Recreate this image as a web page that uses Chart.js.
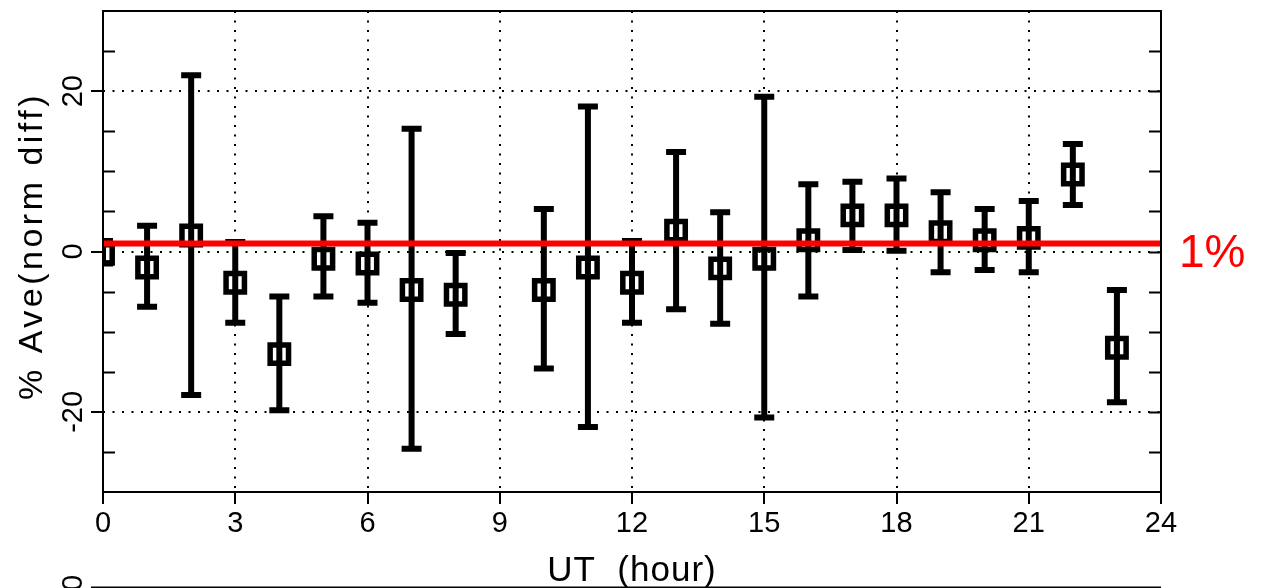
<!DOCTYPE html>
<html>
<head>
<meta charset="utf-8">
<script src="https://cdn.jsdelivr.net/npm/chart.js@4.4.1/dist/chart.umd.min.js"></script>
<style>
  html, body { margin: 0; padding: 0; background: #ffffff; }
  #wrap { width: 1282px; height: 588px; }
</style>
</head>
<body>
<div id="wrap"><canvas id="c" width="1282" height="588"></canvas></div>
<script>
// ---------------- data ----------------
const hours      = [0, 1, 2, 3, 4, 5, 6, 7, 8, 10, 11, 12, 13, 14, 15, 16, 17, 18, 19, 20, 21, 22, 23];
const meanVals   = [-0.3, -2.0, 2.0, -3.9, -12.8, -0.9, -1.5, -4.8, -5.4, -4.8, -2.0, -3.9, 2.6, -2.1, -0.9, 1.4, 4.5, 4.5, 2.4, 1.4, 1.7, 9.6, -12.0];
const upperVals  = [1.3, 3.2, 22.0, 1.2, -5.6, 4.4, 3.6, 15.3, -0.2, 5.3, 18.1, 1.3, 12.4, 4.9, 19.3, 8.4, 8.7, 9.1, 7.4, 5.3, 6.3, 13.4, -4.8];
const lowerVals  = [-1.5, -6.9, -17.9, -8.9, -19.8, -5.6, -6.4, -24.6, -10.3, -14.6, -21.9, -8.9, -7.2, -9.0, -20.7, -5.6, 0.2, 0.1, -2.6, -2.3, -2.6, 5.8, -18.8];
const refLevel   = 1;
const refSpan    = [0, 24];
const refLabel   = '1%';
const yLabelValues = [-20, 0, 20];
const xTitle = 'UT  (hour)';
const yTitle = '% Ave(norm diff)';
const lowerPanelLabel = '0';

const FONT = '"Liberation Sans", Arial, Helvetica, sans-serif';

const overlay = {
  id: 'overlay',
  beforeDatasetsDraw(chart) {
    const { ctx, chartArea: a, scales: { x, y } } = chart;
    ctx.save();
    ctx.beginPath();
    ctx.rect(a.left, a.top, a.right - a.left, a.bottom - a.top);
    ctx.clip();
    ctx.strokeStyle = '#000';
    ctx.lineWidth = 6;
    ctx.lineCap = 'butt';
    hours.forEach((h, i) => {
      const px = x.getPixelForValue(h);
      const yt = y.getPixelForValue(upperVals[i]);
      const yb = y.getPixelForValue(lowerVals[i]);
      ctx.beginPath();
      ctx.moveTo(px, yt); ctx.lineTo(px, yb);
      ctx.moveTo(px - 10, yt); ctx.lineTo(px + 10, yt);
      ctx.moveTo(px - 10, yb); ctx.lineTo(px + 10, yb);
      ctx.stroke();
    });
    ctx.restore();
  },
  afterDraw(chart) {
    const { ctx, chartArea: a, scales: { x, y } } = chart;
    ctx.save();
    // frame
    ctx.strokeStyle = '#000';
    ctx.lineWidth = 2;
    ctx.strokeRect(a.left, a.top, a.right - a.left, a.bottom - a.top);
    // inward ticks on y
    y.ticks.forEach(t => {
      const v = t.value;
      if (v <= y.min || v >= y.max) return;
      const py = Math.round(y.getPixelForValue(v)) + 0.5;
      ctx.beginPath();
      if (!yLabelValues.includes(v)) {
        ctx.moveTo(a.left, py); ctx.lineTo(a.left + 12, py);
      }
      ctx.moveTo(a.right - 12, py); ctx.lineTo(a.right, py);
      ctx.lineWidth = 2;
      ctx.stroke();
    });
    // y tick labels (rotated)
    ctx.fillStyle = '#000';
    ctx.font = '29px ' + FONT;
    ctx.textAlign = 'center';
    ctx.textBaseline = 'middle';
    yLabelValues.forEach(v => {
      ctx.save();
      ctx.translate(74, y.getPixelForValue(v));
      ctx.rotate(-Math.PI / 2);
      ctx.fillText(String(v), 0, 0);
      ctx.restore();
    });
    // y title
    ctx.save();
    ctx.font = '34px ' + FONT;
    if ('letterSpacing' in ctx) ctx.letterSpacing = '3.5px';
    ctx.translate(33, 246);
    ctx.rotate(-Math.PI / 2);
    ctx.fillText(yTitle, 0, 0);
    ctx.restore();
    // x title
    ctx.save();
    ctx.font = '35px ' + FONT;
    if ('letterSpacing' in ctx) ctx.letterSpacing = '1px';
    ctx.fillText(xTitle, (a.left + a.right) / 2, 571);
    ctx.restore();
    // reference label
    ctx.fillStyle = '#ff0000';
    ctx.font = '46px ' + FONT;
    ctx.textAlign = 'left';
    ctx.fillText(refLabel, a.right + 18, y.getPixelForValue(refLevel) + 11);
    // lower panel top edge and label
    ctx.strokeStyle = '#000';
    ctx.lineWidth = 2;
    ctx.beginPath();
    ctx.moveTo(a.left - 12, 587.5);
    ctx.lineTo(a.right, 587.5);
    ctx.stroke();
    ctx.fillStyle = '#000';
    ctx.font = '29px ' + FONT;
    ctx.textAlign = 'center';
    ctx.save();
    ctx.translate(74, 583);
    ctx.rotate(-Math.PI / 2);
    ctx.fillText(lowerPanelLabel, 0, 0);
    ctx.restore();
    ctx.restore();
  }
};

new Chart(document.getElementById('c'), {
  type: 'scatter',
  data: {
    datasets: [
      {
        label: 'ref',
        type: 'line',
        data: refSpan.map(v => ({ x: v, y: refLevel })),
        borderColor: '#ff0000',
        borderWidth: 6,
        pointRadius: 0,
        fill: false,
        order: 0,
        clip: 0
      },
      {
        label: 'mean',
        data: hours.map((h, i) => ({ x: h, y: meanVals[i] })),
        pointStyle: 'rect',
        pointRadius: 13,
        pointBorderWidth: 5.5,
        pointBorderColor: '#000',
        pointBackgroundColor: 'rgba(0,0,0,0)',
        borderColor: '#000',
        backgroundColor: 'rgba(0,0,0,0)',
        showLine: false,
        order: 1,
        clip: 0
      }
    ]
  },
  options: {
    responsive: false,
    animation: false,
    events: [],
    layout: { autoPadding: false, padding: { left: 0, right: 121, top: 11, bottom: 0 } },
    plugins: { legend: { display: false }, tooltip: { enabled: false } },
    scales: {
      x: {
        type: 'linear',
        min: 0, max: 24,
        afterFit: s => { s.height = 96; },
        ticks: { stepSize: 3, color: '#000', font: { family: FONT, size: 29 }, padding: 3, maxRotation: 0 },
        grid: {
          color: c => (c.tick && (c.tick.value === 0 || c.tick.value === 24)) ? 'rgba(0,0,0,0)' : '#000',
          lineWidth: 2,
          tickLength: 12,
          tickColor: '#000',
          tickWidth: 2,
          drawTicks: true
        },
        border: { display: false, dash: [2, 7.5] },
        title: { display: false }
      },
      y: {
        type: 'linear',
        min: -30, max: 30,
        afterFit: s => { s.width = 103; },
        ticks: { stepSize: 5, display: false },
        grid: {
          color: c => (c.tick && yLabelValues.includes(c.tick.value)) ? '#000' : 'rgba(0,0,0,0)',
          lineWidth: 2,
          tickLength: 12,
          tickColor: c => (c.tick && yLabelValues.includes(c.tick.value)) ? '#000' : 'rgba(0,0,0,0)',
          tickWidth: 2,
          drawTicks: true
        },
        border: { display: false, dash: [2, 7.5] }
      }
    }
  },
  plugins: [overlay]
});
</script>
</body>
</html>
